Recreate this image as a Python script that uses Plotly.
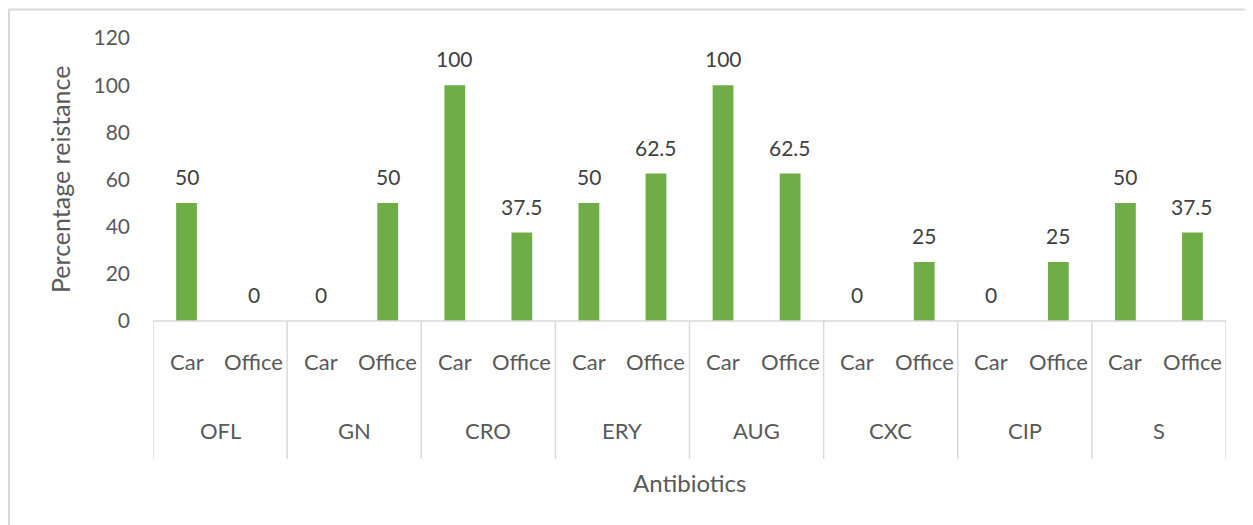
import plotly.graph_objects as go

groups = ["OFL", "GN", "CRO", "ERY", "AUG", "CXC", "CIP", "S"]
subcats = ["Car", "Office"]
car_values = [50, 0, 100, 50, 100, 0, 0, 50]
office_values = [0, 50, 37.5, 62.5, 62.5, 25, 25, 37.5]
y_ticks = [0, 20, 40, 60, 80, 100, 120]

values = []
labels = []
for c, o in zip(car_values, office_values):
    values += [c, o]
    labels += subcats
xpos = list(range(len(values)))

FONT = "Lato, Carlito, Calibri, sans-serif"
GREEN = "#70AD47"
TXT = "#595959"

# page offset of the plot div (default body margin)
OFF = 8
W, H = 1253 - OFF, 525 - OFF
PLOT_TOP, PLOT_BOTTOM, PLOT_LEFT, PLOT_RIGHT = 38, 321, 153, 1226  # page pixels
PH = PLOT_BOTTOM - PLOT_TOP
PW = PLOT_RIGHT - PLOT_LEFT


def py(pix):
    return (PLOT_BOTTOM - pix) / PH


def px(pix):
    return (pix - PLOT_LEFT) / PW


fig = go.Figure()
fig.add_trace(go.Bar(x=xpos, y=values, marker=dict(color=GREEN, line=dict(width=0)),
                     width=0.31, showlegend=False, hoverinfo="y"))

annotations = []
for x, v in zip(xpos, values):
    annotations.append(dict(x=x, y=v, xref="x", yref="y", text=f"{v:g}", showarrow=False,
                            yanchor="bottom", yshift=12, font=dict(size=21, color="#404040", family=FONT)))
for x, lab in zip(xpos, labels):
    annotations.append(dict(x=x, y=py(361), xref="x", yref="paper", text=lab, showarrow=False,
                            yanchor="middle", font=dict(size=22, color=TXT, family=FONT)))
for i, g in enumerate(groups):
    annotations.append(dict(x=2 * i + 0.5, y=py(430), xref="x", yref="paper", text=g, showarrow=False,
                            yanchor="middle", font=dict(size=22, color=TXT, family=FONT)))
annotations.append(dict(x=0.5, y=py(482), xref="paper", yref="paper", text="Antibiotics", showarrow=False,
                        yanchor="middle", font=dict(size=24, color=TXT, family=FONT)))
annotations.append(dict(x=px(60), y=py(180), xref="paper", yref="paper", text="Percentage reistance",
                        showarrow=False, textangle=-90, xanchor="center", yanchor="middle",
                        font=dict(size=25, color=TXT, family=FONT)))

shapes = []
for i in range(len(groups) + 1):
    xb = 2 * i - 0.5
    shapes.append(dict(type="line", xref="x", yref="paper", x0=xb, x1=xb, y0=0, y1=py(459),
                       line=dict(color="#D9D9D9", width=1.5)))
shapes.append(dict(type="line", xref="paper", yref="paper", x0=0, x1=1, y0=0, y1=0,
                   line=dict(color="#D9D9D9", width=1.5)))
# chart border
shapes.append(dict(type="rect", xref="paper", yref="paper", x0=px(9), x1=px(1265), y0=py(540), y1=py(9.5),
                   line=dict(color="#D9D9D9", width=2), fillcolor="rgba(0,0,0,0)"))

fig.update_layout(
    width=W, height=H,
    margin=dict(l=PLOT_LEFT - OFF, r=1253 - PLOT_RIGHT, t=PLOT_TOP - OFF, b=525 - PLOT_BOTTOM,
                autoexpand=False),
    paper_bgcolor="white", plot_bgcolor="white",
    bargap=0.69,
    xaxis=dict(range=[-0.5, len(values) - 0.5], showticklabels=False, showgrid=False,
               zeroline=False, showline=False, ticks="", automargin=False),
    yaxis=dict(range=[0, 120], tickvals=y_ticks, showgrid=False, zeroline=False, showline=False,
               ticks="", ticklabelstandoff=22, automargin=False,
               tickfont=dict(size=21, color=TXT, family=FONT)),
    annotations=annotations,
    shapes=shapes,
)

fig.write_html("out.html")
